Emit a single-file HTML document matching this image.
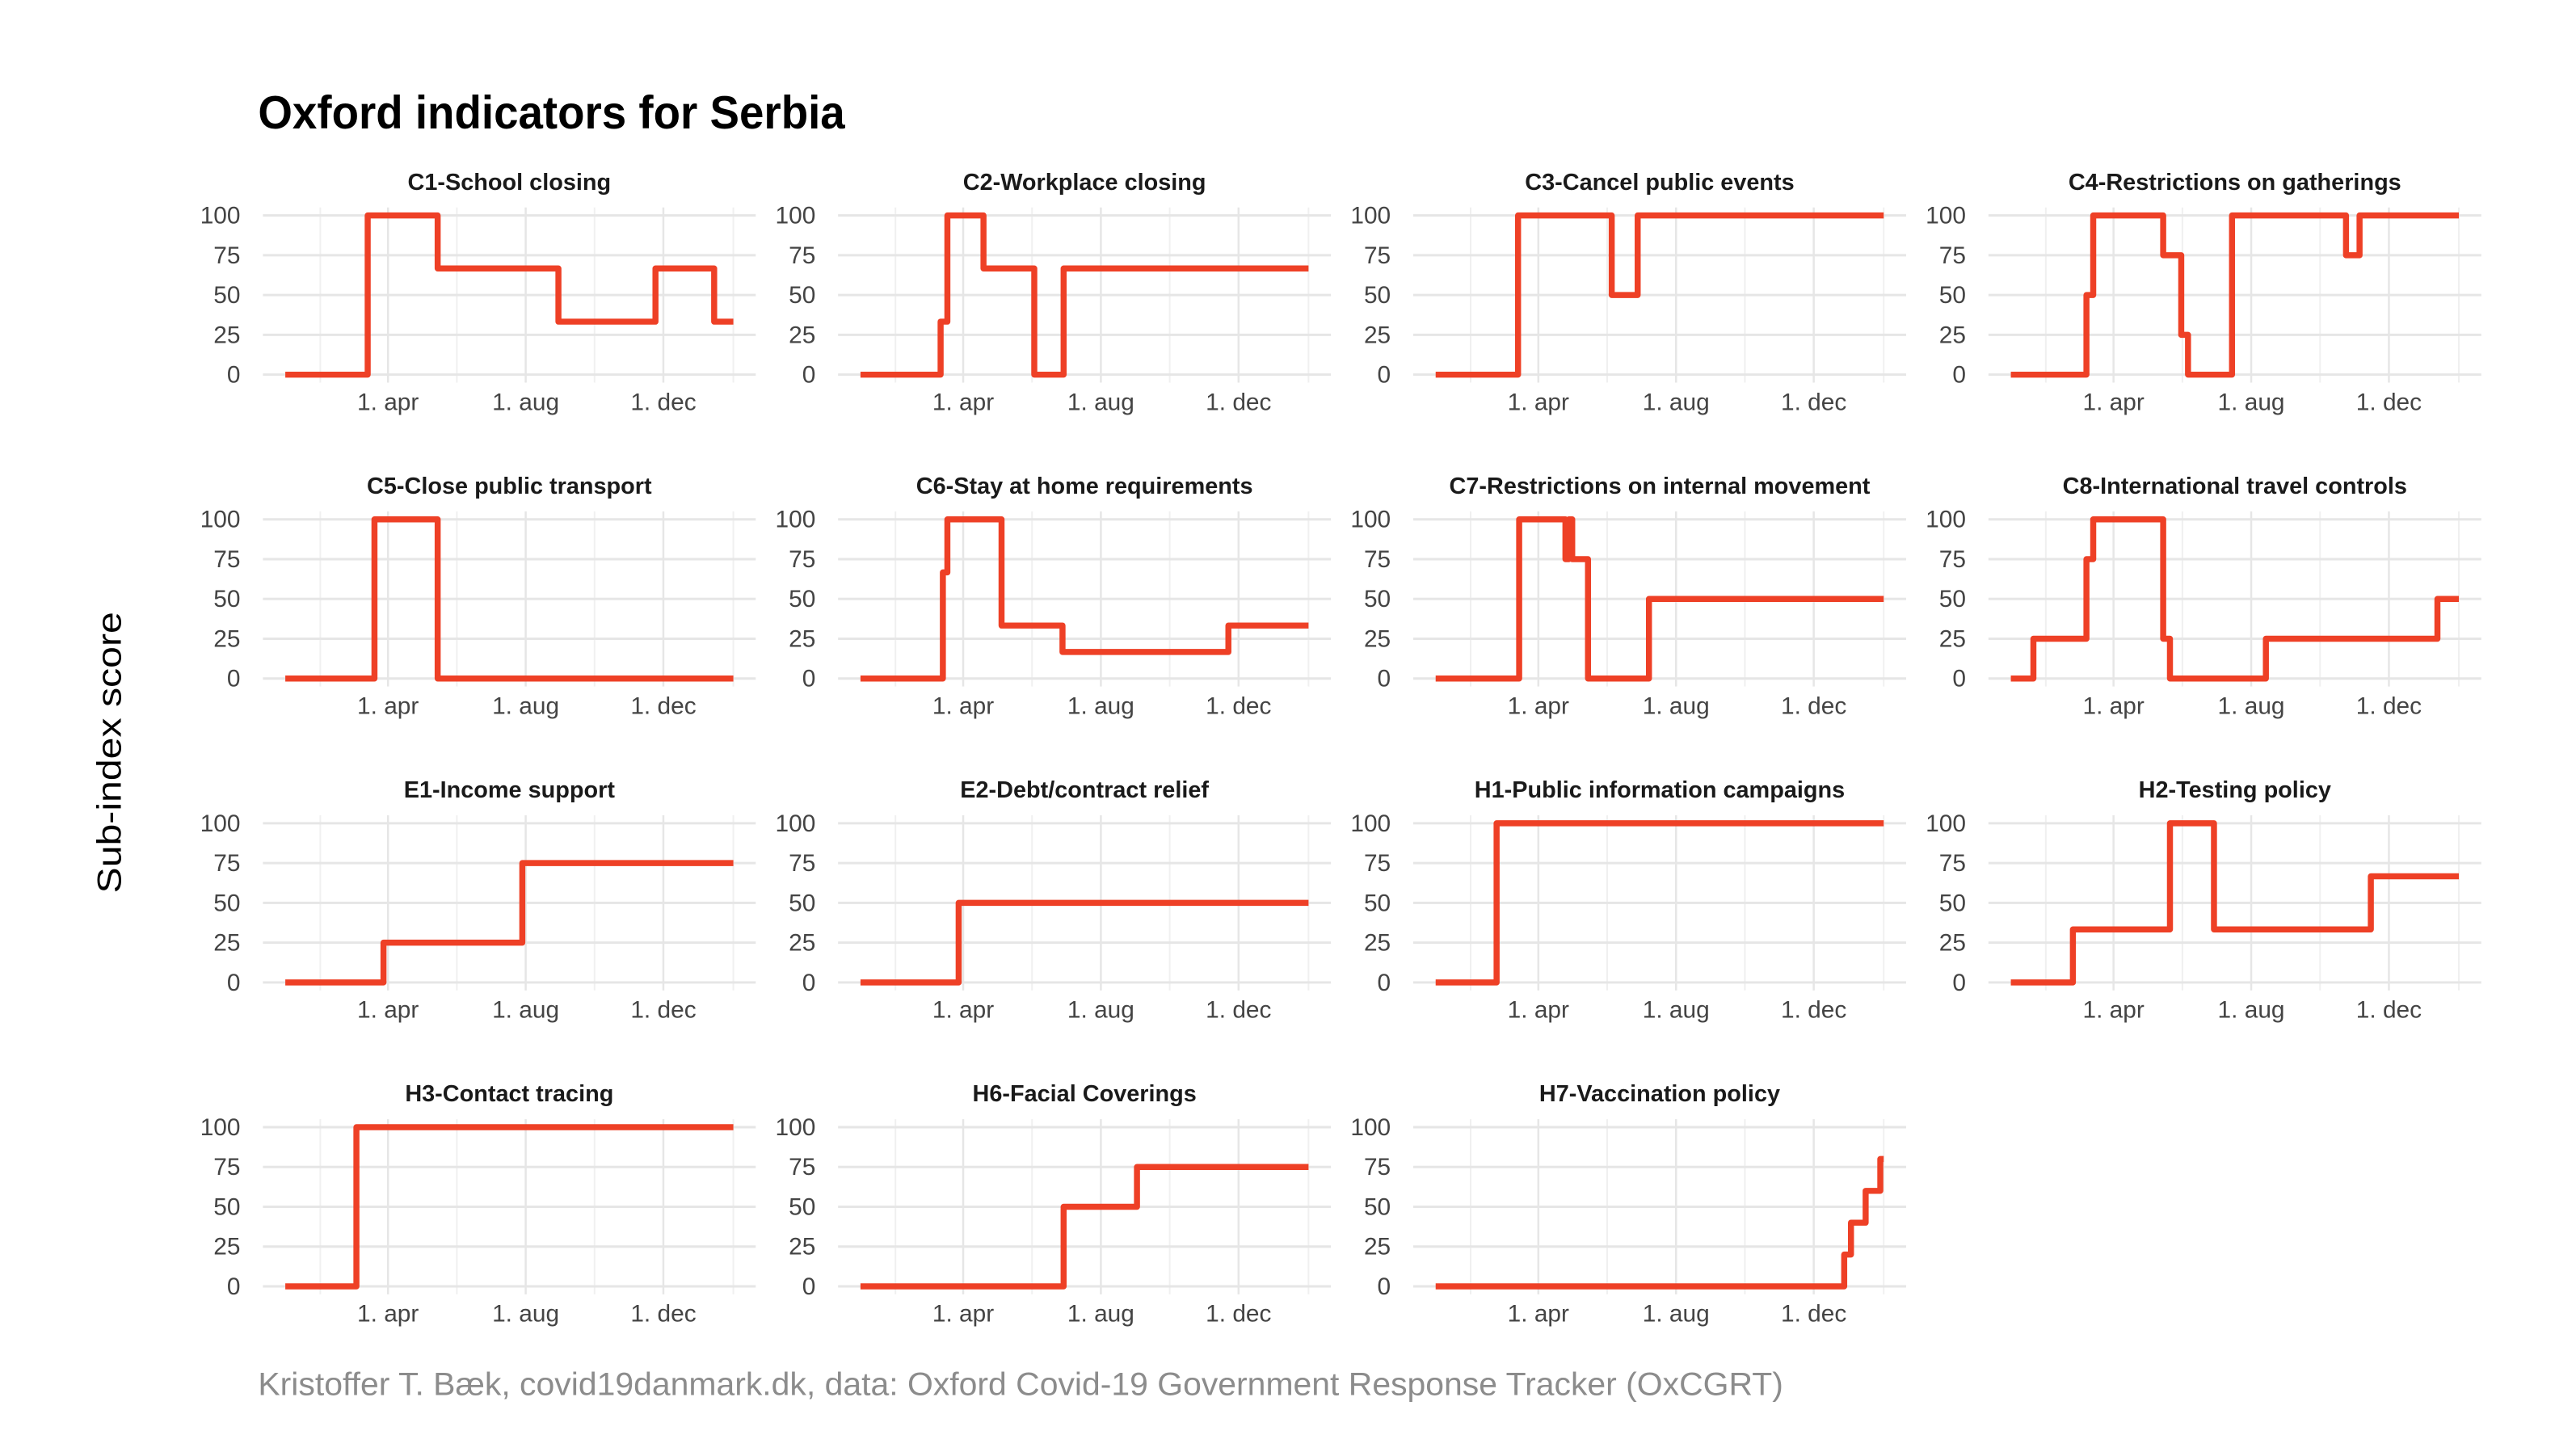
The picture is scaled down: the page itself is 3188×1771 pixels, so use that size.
<!DOCTYPE html>
<html><head><meta charset="utf-8"><style>
html,body{margin:0;padding:0;background:#fff;}
svg{display:block;font-family:"Liberation Sans",sans-serif;}
</style></head><body>
<svg id="chart" width="3188" height="1771" viewBox="0 0 3188 1771" xmlns="http://www.w3.org/2000/svg">
<rect width="3188" height="1771" fill="#fff"/>
<g transform="scale(0.995)">
<text x="321" y="160" font-size="58" font-weight="bold" fill="#000" textLength="730" lengthAdjust="spacingAndGlyphs">Oxford indicators for Serbia</text>
<text transform="translate(150,936) rotate(-90)" text-anchor="middle" font-size="42" fill="#000" textLength="350" lengthAdjust="spacingAndGlyphs">Sub-index score</text>
<text x="321" y="1735" font-size="40" fill="#8c8c8c" textLength="1897" lengthAdjust="spacingAndGlyphs">Kristoffer T. Bæk, covid19danmark.dk, data: Oxford Covid-19 Government Response Tracker (OxCGRT)</text>
<g id="panels"></g>
</g>
</svg>
<script>
// Days counted from 2020-01-01
const panelTitles = ["C1-School closing","C2-Workplace closing","C3-Cancel public events","C4-Restrictions on gatherings","C5-Close public transport","C6-Stay at home requirements","C7-Restrictions on internal movement","C8-International travel controls","E1-Income support","E2-Debt/contract relief","H1-Public information campaigns","H2-Testing policy","H3-Contact tracing","H6-Facial Coverings","H7-Vaccination policy"];
const changeDays = [
 [0,73,135,242,328,380],
 [0,71,77,109,154,180],
 [0,73,156,179],
 [0,67,73,135,151,157,196,297,309],
 [0,79,135],
 [0,73,77,125,179,326],
 [0,74,115,118,121,125,135,189],
 [0,20,67,73,135,141,226,378],
 [0,87,210],
 [0,87],
 [0,54],
 [0,55,141,180,319],
 [0,63],
 [0,180,245],
 [0,362,368,381,394]
];
const changeValues = [
 [0,100,66.7,33.3,66.7,33.3],
 [0,33.3,100,66.7,0,66.7],
 [0,100,50,100],
 [0,50,100,75,25,0,100,75,100],
 [0,100,0],
 [0,66.7,100,33.3,16.7,33.3],
 [0,100,75,100,75,75,0,50],
 [0,25,75,100,25,0,25,50],
 [0,25,75],
 [0,50],
 [0,100],
 [0,33.3,100,33.3,66.7],
 [0,100],
 [0,50,75],
 [0,20,40,60,80]
];
const endDay = 397;
const yTicks = [0,25,50,75,100];
const xMajorDays = [91,213,335];
const xMajorLabels = ["1. apr","1. aug","1. dec"];
const xMinorDays = [31,152,274,397];

const NS = "http://www.w3.org/2000/svg";
const g = document.getElementById('panels');
const colX0 = 327, colStep = 715.4, panelW = 613;
const rowY100 = 268, rowStep = 378, yUnit = 198/100;
const dMin = -19.85, dMax = 416.85;
function mk(tag, attrs, parent){const e=document.createElementNS(NS,tag);for(const k in attrs)e.setAttribute(k,attrs[k]);parent.appendChild(e);return e;}

panelTitles.forEach((title,i)=>{
  const c = i%4, r = Math.floor(i/4);
  const left = colX0 + c*colStep;
  const y100 = rowY100 + r*rowStep;
  const xs = d => left + (d-dMin)/(dMax-dMin)*panelW;
  const ys = v => y100 + (100-v)*yUnit;
  const top = ys(105), bot = ys(-5);
  const pg = mk('g',{},g);
  
  
  xMinorDays.forEach(d=>{const l=mk('line',{x1:xs(d),x2:xs(d),y1:top,y2:bot,stroke:'#f0f0f0','stroke-width':2},pg);
    
    });
  xMajorDays.forEach(d=>{const l=mk('line',{x1:xs(d),x2:xs(d),y1:top,y2:bot,stroke:'#e6e6e6','stroke-width':2.5},pg);
    
    });
  yTicks.forEach(v=>{const l=mk('line',{x1:left,x2:left+panelW,y1:ys(v),y2:ys(v),stroke:'#e6e6e6','stroke-width':3},pg);
    
    
    const t=mk('text',{x:left-28,y:ys(v)+10,'text-anchor':'end','font-size':30,fill:'#444'},pg);
    
    
    t.textContent=v;});
  xMajorDays.forEach((d,k)=>{const t=mk('text',{x:xs(d),y:bot+34,'text-anchor':'middle','font-size':30,fill:'#444'},pg);
    
    
    t.textContent=xMajorLabels[k];});
  const st=mk('text',{x:left+panelW/2,y:y100-32,'text-anchor':'middle','font-size':29,'font-weight':'bold',fill:'#1a1a1a'},pg);
  
  
  st.textContent=title;
  const days=changeDays[i], vals=changeValues[i];
  let dstr='M'+xs(days[0])+' '+ys(vals[0]);
  for(let k=1;k<days.length;k++){dstr+=' L'+xs(days[k])+' '+ys(vals[k-1])+' L'+xs(days[k])+' '+ys(vals[k]);}
  dstr+=' L'+xs(endDay)+' '+ys(vals[vals.length-1]);
  const p=mk('path',{d:dstr,fill:'none',stroke:'#ee4026','stroke-width':7.5,'stroke-linejoin':'round'},pg);
  
  
});
</script>
</body></html>
